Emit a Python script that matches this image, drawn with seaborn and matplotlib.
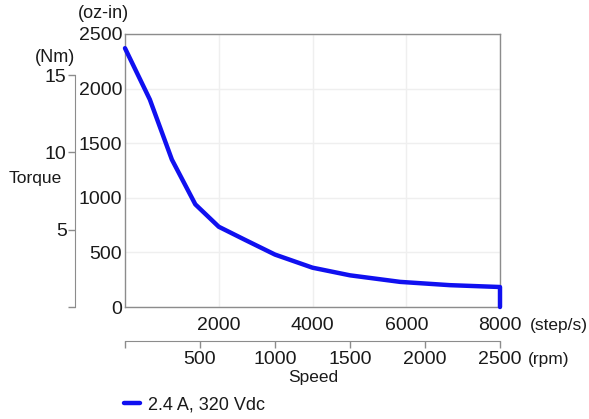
import matplotlib
matplotlib.use("Agg")
import matplotlib.pyplot as plt
import seaborn as sns

# values (speed in step/s, torque in oz-in)
speed_steps = [0, 530, 1000, 1500, 2000, 2560, 3200, 4000, 4800, 5870, 6930, 8000, 8000]
torque_ozin = [2370, 1900, 1350, 940, 735, 615, 480, 360, 290, 230, 200, 183, 0]
series_label = "2.4 A, 320 Vdc"

step_ticks = [2000, 4000, 6000, 8000]
rpm_ticks = [0, 500, 1000, 1500, 2000, 2500]
ozin_ticks = [0, 500, 1000, 1500, 2000, 2500]
nm_ticks = [0, 5, 10, 15]

sns.set_style("white")
plt.rcParams["font.family"] = ["Liberation Sans", "DejaVu Sans"]
plt.rcParams["font.size"] = 14
text_col = "#1a1a1a"
spine_col = "#8c8c8c"

fig = plt.figure(figsize=(5.89, 4.19), dpi=100)
W, H = 589, 419
ax = fig.add_axes([125 / W, 1 - 307 / H, 375 / W, 273 / H])

df = {"speed": speed_steps, "torque": torque_ozin}
sns.lineplot(x="speed", y="torque", data=df, ax=ax, color="#1010f0", linewidth=3.2,
             sort=False, estimator=None, label=series_label, clip_on=False, zorder=5)

ax.set_xlim(0, 8000)
ax.set_ylim(0, 2500)
ax.set_xticks(step_ticks)
ax.set_yticks(ozin_ticks)
ax.tick_params(axis="x", length=0, pad=7, colors=text_col)
ax.tick_params(axis="y", length=0, pad=2, colors=text_col)
ax.set_xlabel("")
ax.set_ylabel("")
ax.grid(True, color="#efefef", linewidth=1)
for s in ax.spines.values():
    s.set_color(spine_col)
    s.set_linewidth(1)
ax.get_legend().remove()

# Nm axis on the left
ax_nm = ax.twinx()
ax_nm.set_ylim(0, 2500 / 141.6)
ax_nm.yaxis.set_ticks_position("left")
ax_nm.spines["left"].set_position(("outward", 36))
ax_nm.spines["left"].set_bounds(0, 15)
ax_nm.spines["left"].set_color(spine_col)
for k in ["right", "top", "bottom"]:
    ax_nm.spines[k].set_visible(False)
ax_nm.set_yticks(nm_ticks)
ax_nm.set_yticklabels([""] + [str(t) for t in nm_ticks[1:]])
ax_nm.tick_params(axis="y", length=5, width=1, pad=1, colors=text_col)
ax_nm.tick_params(axis="y", color=spine_col)

# rpm axis below
ax_rpm = ax.twiny()
ax_rpm.set_xlim(0, 2500)
ax_rpm.xaxis.set_ticks_position("bottom")
ax_rpm.xaxis.set_label_position("bottom")
ax_rpm.spines["bottom"].set_position(("outward", 24.5))
ax_rpm.spines["bottom"].set_color(spine_col)
for k in ["right", "top", "left"]:
    ax_rpm.spines[k].set_visible(False)
ax_rpm.set_xticks(rpm_ticks)
ax_rpm.set_xticklabels([""] + [str(t) for t in rpm_ticks[1:]])
ax_rpm.tick_params(axis="x", length=5, width=1, pad=2, colors=text_col)
ax_rpm.tick_params(axis="x", color=spine_col)

# unit and axis labels
fig.text(103 / W, 1 - 13 / H, "(oz-in)", ha="center", va="center", color=text_col, fontsize=13)
fig.text(55 / W, 1 - 58 / H, "(Nm)", ha="center", va="center", color=text_col, fontsize=13)
fig.text(35 / W, 1 - 178 / H, "Torque", ha="center", va="center", color=text_col, fontsize=12.5)
fig.text(530 / W, 1 - 325 / H, "(step/s)", ha="left", va="center", color=text_col, fontsize=12.5)
fig.text(528 / W, 1 - 359 / H, "(rpm)", ha="left", va="center", color=text_col, fontsize=12.5)
fig.text(313 / W, 1 - 377 / H, "Speed", ha="center", va="center", color=text_col, fontsize=12.5)

handles, labels = ax.get_legend_handles_labels()
fig.legend(handles, labels, loc="center left", bbox_to_anchor=(108 / W, 1 - 405 / H),
           frameon=False, handlelength=0.85, handletextpad=0.45, fontsize=13,
           labelcolor=text_col)

fig.savefig("out.png", dpi=100)
